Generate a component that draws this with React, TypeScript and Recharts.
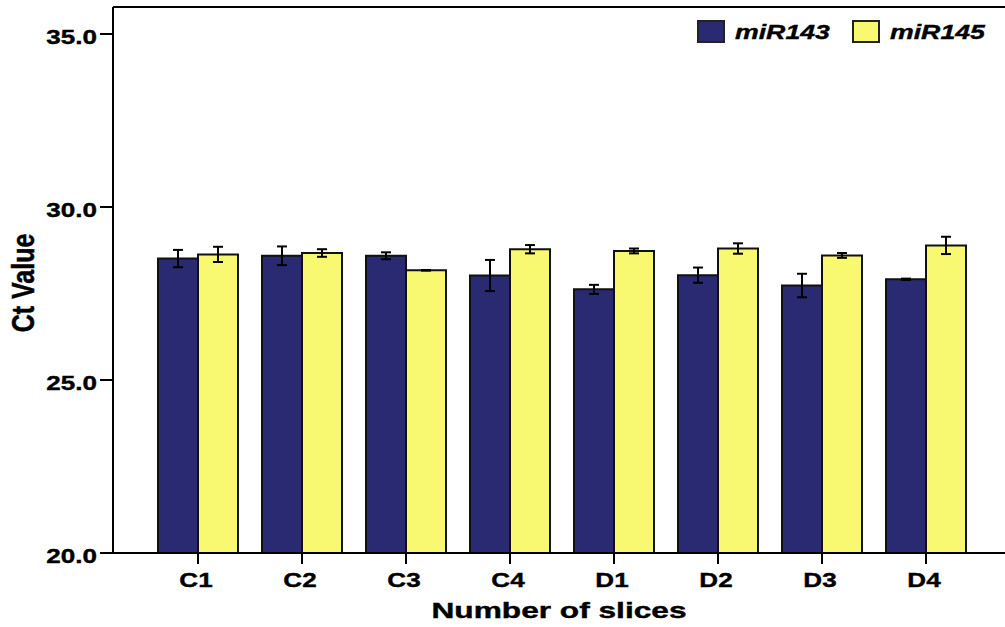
import React from 'react';
import { BarChart, Bar, XAxis, YAxis, ErrorBar, ReferenceLine, Label } from 'recharts';

const categories = ['C1', 'C2', 'C3', 'C4', 'D1', 'D2', 'D3', 'D4'];
const mir143 = [28.51, 28.59, 28.59, 28.02, 27.62, 28.03, 27.73, 27.91];
const mir143Err = [0.25, 0.27, 0.1, 0.45, 0.13, 0.22, 0.34, 0.02];
const mir145 = [28.63, 28.67, 28.17, 28.78, 28.73, 28.8, 28.6, 28.89];
const mir145Err = [0.22, 0.11, 0.01, 0.12, 0.07, 0.15, 0.07, 0.25];
const yTicks = [20, 25, 30, 35];
const Y_MIN = 20;
const Y_MAX = 35.78;

const series = [
  { key: 'miR143', err: 'miR143Err', color: '#2a2a72' },
  { key: 'miR145', err: 'miR145Err', color: '#f9f871' },
];

const data = categories.map((name, i) => ({
  name,
  miR143: mir143[i],
  miR143Err: mir143Err[i],
  miR145: mir145[i],
  miR145Err: mir145Err[i],
}));

// the original figure is stretched sideways, so text gets a horizontal scale
const STRETCH = 1.24;
const arialBold = {
  fontFamily: '"Liberation Sans", Arial, sans-serif',
  fontWeight: 'bold' as const,
  fill: '#000',
  stroke: '#000',
  strokeWidth: 0.4,
};

const XTick = (props: any) => {
  const { x, y, payload } = props;
  return (
    <text
      transform={`translate(${x - 2},${y + 16}) scale(${STRETCH},1)`}
      textAnchor="middle"
      style={{ ...arialBold, fontSize: 21 }}
    >
      {payload.value}
    </text>
  );
};

const YTick = (props: any) => {
  const { x, y, payload } = props;
  return (
    <text
      transform={`translate(${x},${y + 10}) scale(${STRETCH},1)`}
      textAnchor="end"
      style={{ ...arialBold, fontSize: 21 }}
    >
      {Number(payload.value).toFixed(1)}
    </text>
  );
};

const XTitle = (props: any) => {
  const { x, y, width } = props.viewBox;
  return (
    <text
      x={x + width / 2 - 3}
      y={y + 65}
      textAnchor="middle"
      textLength={255}
      lengthAdjust="spacingAndGlyphs"
      style={{ ...arialBold, fontSize: 22 }}
    >
      Number of slices
    </text>
  );
};

const YTitle = (props: any) => {
  const { x, y, height } = props.viewBox;
  const cx = x + 23;
  const cy = y + height / 2 + 3;
  return (
    <text
      transform={`translate(${cx},${cy}) scale(1.28,1) rotate(-90)`}
      x={0}
      y={0}
      textAnchor="middle"
      dominantBaseline="central"
      style={{ ...arialBold, fontSize: 25 }}
    >
      Ct Value
    </text>
  );
};

const App = () => {
  return (
    <div style={{ position: 'fixed', top: 0, left: 0, width: 1005, height: 627, overflow: 'hidden', background: '#fff' }}>
      <BarChart
        width={1040}
        height={627}
        data={data}
        margin={{ top: 7, right: 29, bottom: 14, left: 0 }}
        barGap={0}
        barSize={40}
      >
        <XAxis
          dataKey="name"
          padding={{ left: 33, right: 33 }}
          height={60}
          tick={<XTick />}
          tickSize={11}
          tickMargin={7}
          axisLine={{ stroke: '#000', strokeWidth: 2 }}
          tickLine={{ stroke: '#000', strokeWidth: 2 }}
        >
          <Label content={XTitle} />
        </XAxis>
        <YAxis
          width={113}
          domain={[Y_MIN, Y_MAX]}
          ticks={yTicks}
          allowDataOverflow
          tick={<YTick />}
          tickSize={13}
          tickMargin={3}
          axisLine={{ stroke: '#000', strokeWidth: 2 }}
          tickLine={{ stroke: '#000', strokeWidth: 2 }}
        >
          <Label content={YTitle} />
        </YAxis>
        <ReferenceLine y={Y_MAX} stroke="#000" strokeWidth={2} />
        {series.map((s) => (
          <Bar key={s.key} dataKey={s.key} fill={s.color} stroke="#111" strokeWidth={2} isAnimationActive={false}>
            <ErrorBar dataKey={s.err} width={5} stroke="#000" strokeWidth={2} direction="y" />
          </Bar>
        ))}
      </BarChart>
      {series.map((s, i) => (
        <div
          key={s.key}
          style={{ position: 'absolute', left: 697 + i * 155, top: 20, height: 23, display: 'flex', alignItems: 'center' }}
        >
          <div style={{ width: 28, height: 23, boxSizing: 'border-box', border: '2px solid #222', background: s.color }} />
          <span
            style={{
              marginLeft: 10,
              display: 'inline-block',
              transform: 'scaleX(1.27)',
              transformOrigin: 'left center',
              fontFamily: '"Liberation Sans", Arial, sans-serif',
              fontWeight: 'bold',
              fontStyle: 'italic',
              fontSize: 21,
              lineHeight: 1,
              WebkitTextStroke: '0.4px #000',
            }}
          >
            {s.key}
          </span>
        </div>
      ))}
    </div>
  );
};

export default App;
